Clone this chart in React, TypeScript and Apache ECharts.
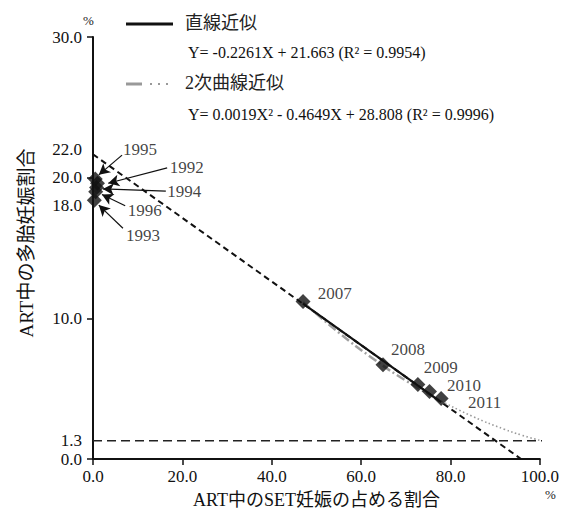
import React, { useEffect, useRef } from "react";
import * as echarts from "echarts";

const years = ["1992", "1993", "1994", "1995", "1996", "2007", "2008", "2009", "2010", "2011"];
const setShare = [1.0, 0.3, 0.8, 0.5, 0.6, 47.0, 64.9, 72.7, 75.3, 77.9];
const multiRate = [19.6, 18.4, 19.3, 19.9, 19.0, 11.2, 6.7, 5.3, 4.8, 4.3];

// label anchor positions (data coords) for year annotations
const labelX = [17.2, 7.4, 16.6, 6.7, 7.8, 50.3, 66.7, 74.0, 79.2, 83.9];
const labelY = [20.7, 15.9, 19.05, 22.0, 17.7, 11.8, 7.75, 6.47, 5.19, 4.05];

// arrows for clustered early years: [startX, startY, endX, endY]
const arrows = [
  [16.6, 20.7, 3.4, 19.6],
  [6.7, 16.4, 1.3, 18.05],
  [16.3, 19.05, 2.2, 19.2],
  [6.5, 21.6, 1.3, 20.2],
  [7.2, 18.0, 2.0, 18.8],
];

// fitted lines (from displayed equations)
const linearFit = [[47.0, 11.04], [77.9, 4.05]];
const linearExt = [[0, 21.66], [95.8, 0]];
const quadFit = [[47, 11.155], [55, 8.986], [63, 7.06], [70, 5.575], [78, 4.105]];
const quadExt = [[78, 4.105], [85, 3.019], [92, 2.119], [96, 1.688], [100, 1.318]];
const refLine = [[0, 1.3], [103.4, 1.3]];

const yTickLabels = [0, 1.3, 10, 18, 20, 22, 30];

const SERIF = "Liberation Serif, Noto Sans CJK JP";

export default function App() {
  const ref = useRef<HTMLDivElement>(null);
  useEffect(() => {
    const chart = echarts.init(ref.current!, null, { renderer: "svg" });
    const yLabelSet = new Set(yTickLabels.map((v) => Math.round(v * 10)));
    chart.setOption({
      animation: false,
      textStyle: { fontFamily: SERIF },
      grid: { left: 93, right: 22, top: 37, bottom: 55 },
      xAxis: {
        type: "value",
        min: 0,
        max: 100,
        interval: 20,
        name: "ART中のSET妊娠の占める割合",
        nameLocation: "middle",
        nameGap: 32,
        nameTextStyle: { fontSize: 18, color: "#111", fontFamily: SERIF },
        axisLine: { show: true, onZero: false, lineStyle: { color: "#111", width: 2 } },
        axisTick: { show: true, inside: false, length: 6, lineStyle: { color: "#111", width: 1.5 } },
        axisLabel: {
          fontSize: 17,
          color: "#111",
          margin: 9,
          fontFamily: SERIF,
          formatter: (v: number) => v.toFixed(1),
        },
        splitLine: { show: false },
      },
      yAxis: [
        {
          type: "value",
          min: 0,
          max: 30,
          interval: 0.1,
          name: "ART中の多胎妊娠割合",
          nameLocation: "middle",
          nameRotate: 90,
          nameGap: 57,
          nameTextStyle: { fontSize: 19, color: "#111", fontFamily: SERIF, padding: [0, 0, 0, 10] },
          axisLine: { show: true, lineStyle: { color: "#111", width: 2 } },
          axisTick: { show: false },
          splitLine: { show: false },
          axisLabel: {
            fontSize: 17,
            color: "#111",
            margin: 11,
            fontFamily: SERIF,
            formatter: (v: number) => (yLabelSet.has(Math.round(v * 10)) ? v.toFixed(1) : ""),
          },
        },
        {
          type: "value",
          min: 0,
          max: 30,
          interval: 10,
          position: "left",
          axisLine: { show: false },
          axisTick: { show: true, length: 6, lineStyle: { color: "#111", width: 1.5 } },
          axisLabel: { show: false },
          splitLine: { show: false },
        },
      ],
      series: [
        {
          name: "基準線",
          type: "line",
          data: refLine,
          clip: false,
          symbol: "none",
          lineStyle: { color: "#222", width: 1.5, type: [9, 5] },
          z: 1,
        },
        {
          name: "直線近似（外挿）",
          type: "line",
          data: linearExt,
          symbol: "none",
          lineStyle: { color: "#111", width: 2, type: [6, 4] },
          z: 2,
        },
        {
          name: "2次曲線近似（外挿）",
          type: "line",
          data: quadExt,
          smooth: true,
          symbol: "none",
          lineStyle: { color: "#999", width: 1.6, type: [1.5, 2.5] },
          z: 2,
        },
        {
          name: "2次曲線近似",
          type: "line",
          data: quadFit,
          smooth: true,
          symbol: "none",
          lineStyle: { color: "#a0a0a0", width: 2.5, type: [9, 3, 2, 3] },
          z: 3,
        },
        {
          name: "直線近似",
          type: "line",
          data: linearFit,
          symbol: "none",
          lineStyle: { color: "#111", width: 2.2, type: "solid" },
          z: 4,
        },
        {
          name: "データ",
          type: "scatter",
          symbol: "diamond",
          symbolSize: 15,
          itemStyle: { color: "#111" },
          data: setShare.map((x, i) => [x, multiRate[i]]),
          z: 5,
        },
        {
          name: "年",
          type: "scatter",
          symbolSize: 0,
          silent: true,
          data: years.map((yr, i) => ({ value: [labelX[i], labelY[i]], name: yr })),
          label: {
            show: true,
            position: "right",
            distance: 0,
            formatter: (p: any) => p.name,
            fontSize: 17,
            color: "#111",
            fontFamily: SERIF,
          },
          markLine: {
            silent: true,
            symbol: ["none", "arrow"],
            symbolSize: [9, 11],
            label: { show: false },
            lineStyle: { color: "#111", width: 1.2, type: "solid" },
            data: arrows.map((a) => [{ coord: [a[0], a[1]] }, { coord: [a[2], a[3]] }]),
          },
          z: 6,
        },
      ],
      graphic: [
        { type: "text", left: 83, top: 14, style: { text: "%", fontSize: 13, fill: "#222", fontFamily: SERIF } },
        { type: "text", left: 545, top: 488, style: { text: "%", fontSize: 13, fill: "#222", fontFamily: SERIF } },
        { type: "line", shape: { x1: 126, y1: 24, x2: 173, y2: 24 }, style: { stroke: "#111", lineWidth: 3 } },
        {
          type: "text",
          left: 185,
          top: 14,
          style: { text: "直線近似", fontSize: 18, fill: "#222", fontFamily: SERIF },
        },
        {
          type: "text",
          left: 188,
          top: 44,
          style: { text: "Y= -0.2261X + 21.663 (R² = 0.9954)", fontSize: 16, fill: "#111", fontFamily: SERIF },
        },
        { type: "line", shape: { x1: 126, y1: 84, x2: 142, y2: 84 }, style: { stroke: "#999", lineWidth: 3 } },
        {
          type: "line",
          shape: { x1: 150, y1: 84, x2: 172, y2: 84 },
          style: { stroke: "#999", lineWidth: 2, lineDash: [2, 6] },
        },
        {
          type: "text",
          left: 185,
          top: 74,
          style: { text: "2次曲線近似", fontSize: 18, fill: "#222", fontFamily: SERIF },
        },
        {
          type: "text",
          left: 188,
          top: 106,
          style: {
            text: "Y= 0.0019X² - 0.4649X + 28.808 (R² = 0.9996)",
            fontSize: 16,
            fill: "#111",
            fontFamily: SERIF,
          },
        },
      ],
    });
    return () => chart.dispose();
  }, []);
  return <div ref={ref} style={{ width: 562, height: 514, position: "absolute", left: 0, top: 0 }} />;
}
